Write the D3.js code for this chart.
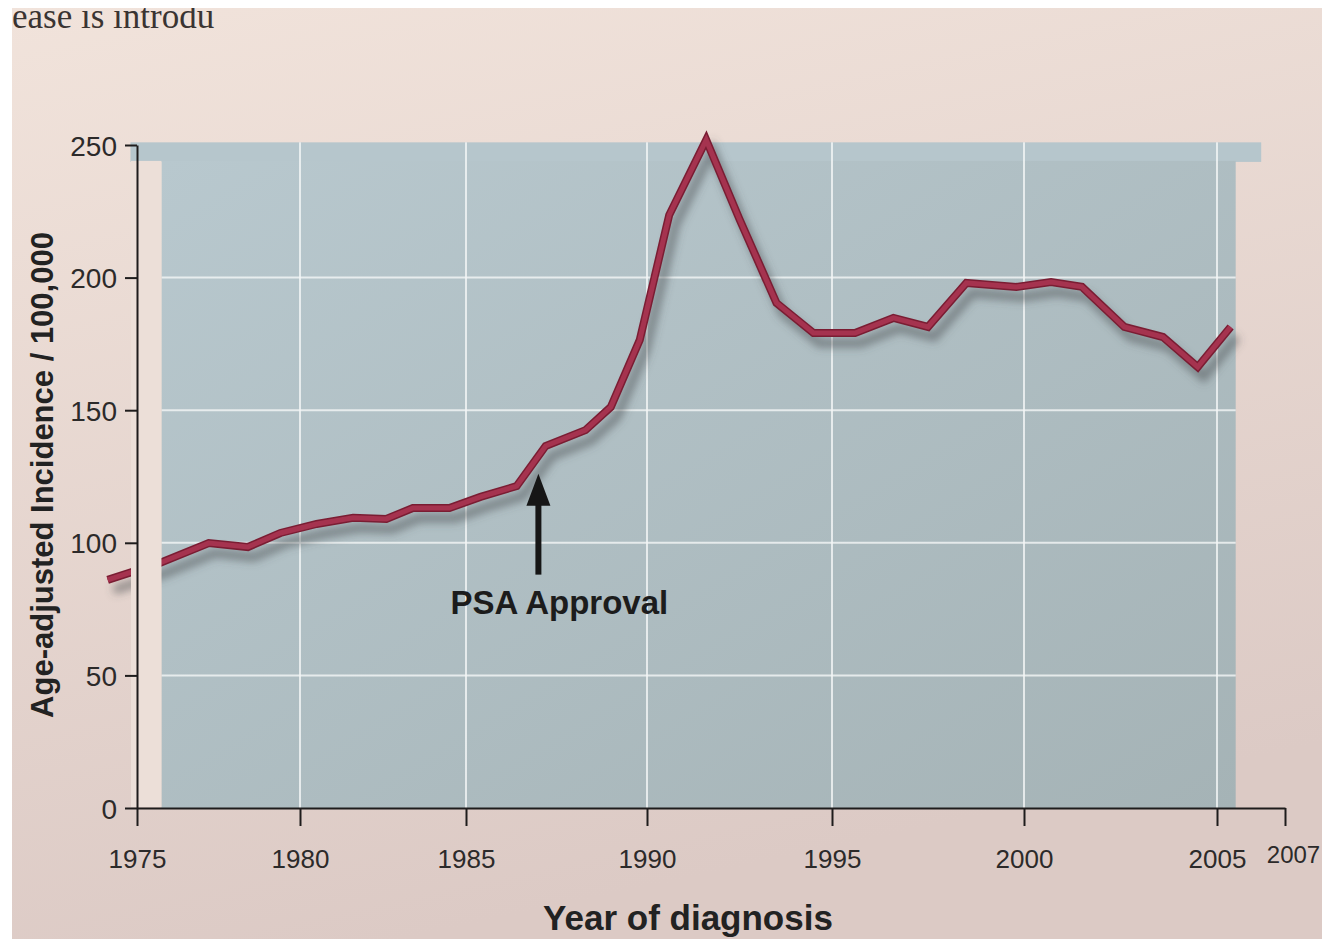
<!DOCTYPE html>
<html>
<head>
<meta charset="utf-8">
<script src="https://cdn.jsdelivr.net/npm/d3@7"></script>
<style>
  body { margin: 0; background: #fff; }
  svg { display: block; }
</style>
</head>
<body>
<div id="chart"></div>
<script>
// year positions as they sit on the printed axis, and the plotted incidence
var years = [1974.1, 1975.7, 1977.2, 1978.4, 1979.4, 1980.5, 1981.6, 1982.6, 1983.4, 1984.5,
             1985.4, 1986.4, 1987.2, 1988.3, 1989.0, 1989.8, 1990.6, 1991.6, 1992.5, 1993.5,
             1994.5, 1995.6, 1996.6, 1997.5, 1998.5, 1999.8, 2000.7, 2001.5, 2002.6, 2003.6,
             2004.5, 2005.4];
var incidence = [86, 92.4, 99.9, 98.4, 103.7, 107.1, 109.4, 109.0, 113.1, 113.1,
                 117.3, 121.4, 136.5, 142.5, 151.2, 176.5, 223.6, 251.9, 222, 190.4,
                 179.1, 179.1, 184.8, 181.4, 198.0, 196.5, 198.3, 196.5, 181.4, 177.6,
                 166.3, 181.4];

var xTicks = [1975, 1980, 1985, 1990, 1995, 2000, 2005, 2007];
var yTicks = [0, 50, 100, 150, 200, 250];
var xGrid = [1980, 1985, 1990, 1995, 2000, 2005];
var yGrid = [50, 100, 150, 200];

// annotation
var psaYear = 1987, psaTip = 126, psaTail = 88;
var psaLabel = "PSA Approval";

// shaded panel (data extent)
var panelX = [1975.75, 2005.55], bandX = [1974.8, 2006.3];
var panelTop = 244, bandTop = 251;

var W = 1328, H = 941;
var margin = {top: 145, right: 43, bottom: 133, left: 137};
var width = W - margin.left - margin.right,
    height = H - margin.top - margin.bottom;

// the printed axis is not evenly spaced, so the scale follows its tick marks
var x = d3.scaleLinear()
    .domain(xTicks)
    .range([0, 163, 329, 510, 695, 887, 1080, 1148]);
var y = d3.scaleLinear().domain([0, 250]).range([height, 0]);

var font = "'Liberation Sans', Arial, sans-serif";

var svg = d3.select("#chart").append("svg")
    .attr("width", W).attr("height", H);

var defs = svg.append("defs");
var pg = defs.append("linearGradient").attr("id", "page")
    .attr("x1", 0).attr("y1", 0).attr("x2", 0.3).attr("y2", 1);
pg.append("stop").attr("offset", 0).attr("stop-color", "#f1e3db");
pg.append("stop").attr("offset", 1).attr("stop-color", "#dccac5");

var sg = defs.append("linearGradient").attr("id", "shade")
    .attr("x1", 0).attr("y1", 0).attr("x2", 1).attr("y2", 1);
sg.append("stop").attr("offset", 0).attr("stop-color", "#b8c8ce");
sg.append("stop").attr("offset", 1).attr("stop-color", "#a5b3b6");

defs.append("filter").attr("id", "blur")
    .attr("x", "-10%").attr("y", "-10%").attr("width", "120%").attr("height", "120%")
  .append("feGaussianBlur").attr("stdDeviation", 4);

// page
svg.append("rect").attr("x", 12).attr("y", 8).attr("width", W - 18).attr("height", H - 10)
    .attr("fill", "url(#page)");
svg.append("text").attr("x", 12).attr("y", 28)
    .style("font-family", "'Liberation Serif', serif").style("font-size", "35px")
    .attr("fill", "#3a3432").text("ease is introdu");
svg.append("rect").attr("x", 0).attr("y", 0).attr("width", W).attr("height", 8).attr("fill", "#fff");

var g = svg.append("g").attr("transform", "translate(" + margin.left + "," + margin.top + ")");

// shaded panel with the thin band across the top
g.append("rect")
    .attr("x", x(bandX[0])).attr("y", y(bandTop))
    .attr("width", x(bandX[1]) - x(bandX[0])).attr("height", y(panelTop) - y(bandTop) + 1)
    .attr("fill", "#b6c6cc");
g.append("rect")
    .attr("x", x(panelX[0])).attr("y", y(panelTop))
    .attr("width", x(panelX[1]) - x(panelX[0])).attr("height", y(0) - y(panelTop))
    .attr("fill", "url(#shade)");

// grid
g.append("g").selectAll("line").data(xGrid).enter().append("line")
    .attr("x1", function(d) { return x(d); }).attr("x2", function(d) { return x(d); })
    .attr("y1", y(0)).attr("y2", y(bandTop))
    .attr("stroke", "#f4f6f6").attr("stroke-opacity", 0.8).attr("stroke-width", 2);
g.append("g").selectAll("line").data(yGrid).enter().append("line")
    .attr("x1", x(panelX[0])).attr("x2", x(panelX[1]))
    .attr("y1", function(d) { return y(d); }).attr("y2", function(d) { return y(d); })
    .attr("stroke", "#f4f6f6").attr("stroke-opacity", 0.8).attr("stroke-width", 2);

var data = years.map(function(yr, i) { return {year: yr, value: incidence[i]}; });
var line = d3.line()
    .x(function(d) { return x(d.year); })
    .y(function(d) { return y(d.value); });

// drop shadow, then the red line
g.append("path").datum(data)
    .attr("d", line)
    .attr("transform", "translate(6,10)")
    .attr("fill", "none").attr("stroke", "#4b5052").attr("stroke-opacity", 0.55)
    .attr("stroke-width", 9).attr("filter", "url(#blur)");
g.append("path").datum(data)
    .attr("d", line)
    .attr("fill", "none").attr("stroke", "#7a1d33").attr("stroke-width", 8)
    .attr("stroke-linejoin", "miter");
g.append("path").datum(data)
    .attr("d", line)
    .attr("fill", "none").attr("stroke", "#a5334f").attr("stroke-width", 5)
    .attr("stroke-linejoin", "miter");

// the margin strip between axis and panel hides the line, as printed
g.append("rect")
    .attr("class", "gap")
    .attr("x", x(1975) - 6).attr("y", y(panelTop))
    .attr("width", x(panelX[0]) - x(1975) + 6).attr("height", y(0) - y(panelTop) - 1)
    .style("fill", "#ecdfd8");

// axes
var yAxis = d3.axisLeft(y).tickValues(yTicks).tickSize(12).tickSizeOuter(0).tickPadding(8);
var xAxis = d3.axisBottom(x).tickValues(xTicks).tickSize(18).tickSizeOuter(0).tickPadding(24)
    .tickFormat(d3.format("d"));

var ya = g.append("g").call(yAxis);
var xa = g.append("g").attr("transform", "translate(0," + height + ")").call(xAxis);
[ya, xa].forEach(function(a) {
  a.selectAll("path, line").attr("stroke", "#1e1c1c").attr("stroke-width", 2);
  a.selectAll("text")
    .style("font-family", font)
    .style("font-size", "26px").attr("fill", "#2c2a2a");
});
ya.selectAll("text").style("font-size", "28px").attr("dy", "0.36em");
xa.selectAll("text").filter(function(d) { return d === 2007; })
    .style("font-size", "24px").attr("dx", 8).attr("y", 38);

// axis titles
svg.append("text")
    .attr("transform", "translate(53," + 475 + ") rotate(-90)")
    .attr("text-anchor", "middle")
    .style("font-family", font)
    .style("font-size", "31px").style("font-weight", "bold").attr("fill", "#222")
    .text("Age-adjusted Incidence / 100,000");
svg.append("text")
    .attr("x", 688).attr("y", 930)
    .attr("text-anchor", "middle")
    .style("font-family", font)
    .style("font-size", "35px").style("font-weight", "bold").attr("fill", "#222")
    .text("Year of diagnosis");

// PSA annotation
var ax = x(psaYear);
g.append("line")
    .attr("x1", ax).attr("x2", ax)
    .attr("y1", y(psaTail)).attr("y2", y(psaTip) + 26)
    .attr("stroke", "#161616").attr("stroke-width", 6);
g.append("path")
    .attr("d", "M" + ax + "," + y(psaTip) + "L" + (ax - 12) + "," + (y(psaTip) + 32) +
               "L" + (ax + 12) + "," + (y(psaTip) + 32) + "Z")
    .attr("fill", "#161616");
g.append("text")
    .attr("x", ax + 21).attr("y", y(psaTail) + 39)
    .attr("text-anchor", "middle")
    .style("font-family", font)
    .style("font-size", "33px").style("font-weight", "bold").attr("fill", "#1c1c1c")
    .text(psaLabel);
</script>
</body>
</html>
